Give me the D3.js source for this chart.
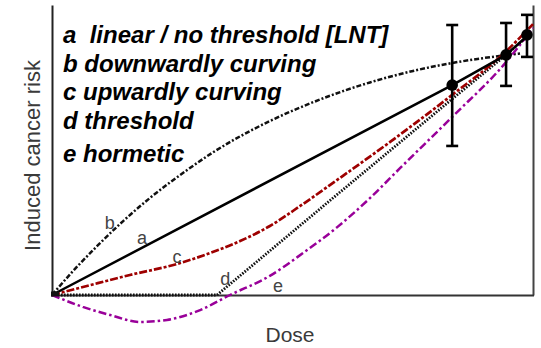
<!DOCTYPE html>
<html>
<head>
<meta charset="utf-8">
<script src="https://cdn.jsdelivr.net/npm/d3@7"></script>
<style>
  html, body { margin: 0; padding: 0; background: #fff; }
  svg { display: block; font-family: "Liberation Sans", Arial, sans-serif; }
</style>
</head>
<body>
<svg id="chart" width="541" height="348"></svg>
<script>
// ---------------- data (dose 0-100, induced risk 0-100) ----------------
const legendLabels = [
  "a  linear / no threshold [LNT]",
  "b downwardly curving",
  "c upwardly curving",
  "d threshold",
  "e hormetic"
];
const curveNames = ["a", "b", "c", "d", "e"];

const curveA = [[0, 0], [83.2, 72.4], [94.4, 82.8], [98.8, 89.3]];
const curveB = [[0, 0], [4.4, 8.3], [9.4, 16.9], [14.8, 25.5], [20.4, 33.5], [28.1, 43.1],
                [33.3, 49.0], [37.6, 53.3], [45.3, 60.0], [55.7, 67.4], [66.1, 73.3],
                [76.5, 77.8], [83.2, 80.0], [93.8, 82.6], [97.3, 83.3]];
const curveC = [[0, 0], [7.9, 3.4], [16.2, 6.9], [26.0, 10.7], [32.9, 14.5], [39.1, 18.6],
                [45.3, 23.8], [51.6, 30.7], [59.3, 39.7], [70.3, 52.8], [83.2, 69.0],
                [94.0, 83.4], [100, 93.4]];
const curveD = [[0, 0], [34.3, 0], [59.9, 35.5], [83.2, 67.6], [94.4, 82.8], [99.4, 90.0]];
const curveE = [[0, 0], [6.4, -4.1], [12.1, -6.9], [18.3, -9.3], [23.9, -8.6], [30.8, -5.2],
                [37.0, 0], [45.3, 6.6], [52.2, 14.5], [59.3, 23.4], [66.1, 33.4],
                [72.4, 43.8], [83.2, 61.4], [94.4, 80.3], [100, 92.1]];

const pointDose = [83.2, 94.4, 98.75];
const pointRisk = [72.4, 82.8, 89.7];
const errLow    = [51.4, 72.1, 82.1];
const errHigh   = [93.1, 93.8, 96.6];

// where the small curve letters sit (dose, risk)
const curveLetterAt = [[18.7, 17.6], [12.0, 22.8], [26.0, 11.0], [36.0, 3.4], [47.0, 1.0]];

// ---------------- drawing ----------------
const svg = d3.select("#chart");
const x = d3.scaleLinear().domain([0, 100]).range([52, 533]);
const y = d3.scaleLinear().domain([0, 100]).range([295, 5]);

// axes (frame lines only)
svg.append("g").attr("transform", `translate(${x(0)},0)`)
  .call(d3.axisLeft(y).tickValues([]).tickSizeOuter(0))
  .select(".domain").attr("stroke", "#222").attr("stroke-width", 2);
svg.append("g").attr("transform", `translate(${x(100)},0)`)
  .call(d3.axisRight(y).tickValues([]).tickSizeOuter(0))
  .select(".domain").attr("stroke", "#444").attr("stroke-width", 2);
svg.append("g").attr("transform", `translate(0,${y(0)})`)
  .call(d3.axisBottom(x).tickValues([]).tickSizeOuter(0))
  .select(".domain").attr("stroke", "#333").attr("stroke-width", 2)
  .attr("d", `M${x(0) - 1},0.5H${x(100) + 1}`);

// curves
const line = d3.line().x(d => x(d[0])).y(d => y(d[1]));
const styles = [
  { data: curveD, color: "#111", dash: "1.6,1.4", w: 2.8, curve: d3.curveLinear },
  { data: curveB, color: "#111", dash: "5,2,2,2", w: 2.5, curve: d3.curveMonotoneX },
  { data: curveC, color: "#9e0000", dash: "8,2,3,2", w: 2.7, curve: d3.curveMonotoneX },
  { data: curveE, color: "#990099", dash: "8,3,2.5,3", w: 2.5, curve: d3.curveMonotoneX },
  { data: curveA, color: "#000", dash: null, w: 2.5, curve: d3.curveLinear }
];
styles.forEach(s => {
  svg.append("path")
    .attr("d", line.curve(s.curve)(s.data))
    .attr("fill", "none")
    .attr("stroke", s.color)
    .attr("stroke-width", s.w)
    .attr("stroke-dasharray", s.dash);
});

// origin marker
svg.append("rect")
  .attr("x", x(0) - 1).attr("y", y(0) - 3.5).attr("width", 8).attr("height", 5)
  .attr("fill", "#111");

// error bars and points
const capW = 6;
pointDose.forEach((d, i) => {
  const g = svg.append("g").attr("stroke", "#000").attr("stroke-width", 2.6);
  g.append("line").attr("x1", x(d)).attr("x2", x(d)).attr("y1", y(errLow[i])).attr("y2", y(errHigh[i]));
  g.append("line").attr("x1", x(d) - capW).attr("x2", x(d) + capW).attr("y1", y(errLow[i])).attr("y2", y(errLow[i]));
  g.append("line").attr("x1", x(d) - capW).attr("x2", x(d) + capW).attr("y1", y(errHigh[i])).attr("y2", y(errHigh[i]));
  svg.append("circle").attr("cx", x(d)).attr("cy", y(pointRisk[i])).attr("r", 5.8).attr("fill", "#000");
});

// curve letters
curveNames.forEach((n, i) => {
  svg.append("text")
    .attr("x", x(curveLetterAt[i][0])).attr("y", y(curveLetterAt[i][1]))
    .attr("text-anchor", "middle")
    .attr("font-size", 18).attr("fill", "#444")
    .text(n);
});

// legend text
const legendBase = [43, 72, 100, 129, 162];
legendLabels.forEach((t, i) => {
  svg.append("text")
    .attr("x", 63).attr("y", legendBase[i])
    .attr("font-size", 24).attr("font-weight", "bold").attr("font-style", "italic")
    .attr("fill", "#000")
    .style("white-space", "pre")
    .text(t);
});

// axis titles
svg.append("text")
  .attr("transform", `translate(40,155.5) rotate(-90)`)
  .attr("text-anchor", "middle")
  .attr("font-size", 22).attr("fill", "#3a3a3a")
  .text("Induced cancer risk");
svg.append("text")
  .attr("x", 290).attr("y", 342)
  .attr("text-anchor", "middle")
  .attr("font-size", 21).attr("fill", "#3a3a3a")
  .text("Dose");
</script>
</body>
</html>
